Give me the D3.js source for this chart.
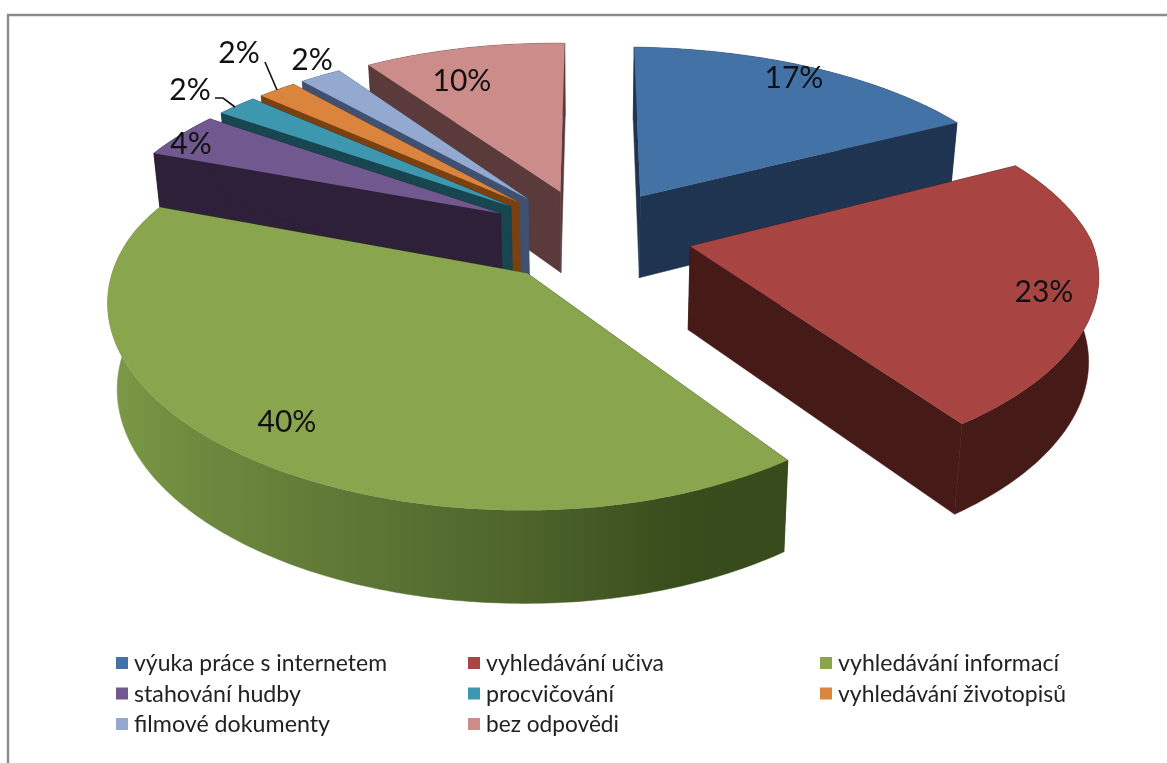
<!DOCTYPE html>
<html><head><meta charset="utf-8">
<script src="https://d3js.org/d3.v7.min.js"></script>
<style>html,body{margin:0;padding:0;background:#fff}svg{display:block;filter:blur(0.5px)}</style>
</head><body><svg id="c" width="1167" height="763"></svg>
<script>
const categories = ["výuka práce s internetem","vyhledávání učiva","vyhledávání informací","stahování hudby","procvičování","vyhledávání životopisů","filmové dokumenty","bez odpovědi"];
const values = [17,23,40.4,4,1.95,1.85,2,9.8];
const topColors = ["#4372a6","#a84441","#89a54e","#71588f","#3d97ae","#db843d","#93a9cf","#cc8c8a"];
const sideColors = ["#1f3450","#451a17","#374a1c","#2d2038","#174550","#7a4010","#3f5070","#5a3a3a"];

const svg = d3.select("#c");
const font = "Lato, Carlito, sans-serif";

// perspective model
const cx=590, cy=235, R=402, explode=102, depth=83;
const k=0.46, g=0.0004;
const scaleFy = y => k/(1+g*y);
function scaleFx(X,Y){
  const gx = Y<0 ? (X<0 ? 0.00035 : 0.00028) : 0.00036;
  const extra = (X<0 && Y>0) ? 1-0.00007*Y : 1;
  return extra/(1+gx*Y);
}
function proj(X,Y,z){
  const px = cx + X*scaleFx(X,Y)*(1-0.02*z);
  const py = cy - Y*scaleFy(Y) + 0.01*X + z*depth*(1-0.00025*Y);
  return [px,py];
}
const pie = d3.pie().sort(null).value(d=>d)(values);
const line = d3.line();
const slices = pie.map((p,i)=>{
  const mid=(p.startAngle+p.endAngle)/2;
  return {i,p,ox:explode*Math.sin(mid),oy:explode*Math.cos(mid)};
}).sort((a,b)=>b.oy-a.oy);

const defs = svg.append("defs");
const gr = defs.append("linearGradient").attr("id","greenWall").attr("gradientUnits","userSpaceOnUse")
  .attr("x1",107).attr("x2",785).attr("y1",0).attr("y2",0);
[[0,"#7c9a46"],[0.12,"#6f8b3f"],[0.35,"#5f7836"],[0.62,"#4d632b"],[0.85,"#384c1c"],[1,"#364a1b"]]
  .forEach(s=>gr.append("stop").attr("offset",s[0]).attr("stop-color",s[1]));

const plot = svg.append("g");
slices.forEach(s=>{
  const pt=(a,r,z)=>proj(s.ox+r*Math.sin(a),s.oy+r*Math.cos(a),z);
  const a0=s.p.startAngle,a1=s.p.endAngle;
  const n=Math.max(4,Math.ceil((a1-a0)*60));
  const angles=d3.range(n+1).map(j=>a0+(a1-a0)*j/n);
  const side=s.i===2?"url(#greenWall)":sideColors[s.i];
  const faceCol=sideColors[s.i];
  [a0,a1].forEach(a=>{
    plot.append("path").attr("fill",faceCol).attr("stroke",faceCol).attr("stroke-width",0.5)
      .attr("d",line([pt(a,0,0),pt(a,R,0),pt(a,R,1),pt(a,0,1)])+"Z");
  });
  const wall=angles.map(a=>pt(a,R,0)).concat(angles.slice().reverse().map(a=>pt(a,R,1)));
  plot.append("path").attr("fill",side).attr("stroke",side).attr("stroke-width",0.5).attr("d",line(wall)+"Z");
  const top=[pt(a0,0,0)].concat(angles.map(a=>pt(a,R,0)));
  plot.append("path").attr("fill",topColors[s.i]).attr("d",line(top)+"Z");
});

// frame
const frameColor="#8a8a8a";
svg.append("path").attr("fill","none").attr("stroke",frameColor).attr("stroke-width",2.4)
  .attr("d",line([[8,763],[8,15],[1167,15]]));

// data labels
const labelLayout=[[794,77],[1044,291],[287,421],[191,143],[190,89],[239,52],[312,59],[462,80]];
svg.append("g").selectAll("text").data(values).join("text")
  .attr("x",(d,i)=>labelLayout[i][0]).attr("y",(d,i)=>labelLayout[i][1]+11)
  .attr("text-anchor","middle").attr("font-family",font).attr("font-size",30).attr("fill","#111")
  .text(d=>Math.round(d)+"%");

// leader lines
[[[215,98],[223,98],[235,107]],[[265,62],[277,90]]].forEach(l=>
  svg.append("path").attr("fill","none").attr("stroke","#111").attr("stroke-width",1.6).attr("d",line(l)));

// legend
const colX=d3.scalePoint().domain([0,1,2]).range([116,820]);
const rowY=d3.scalePoint().domain([0,1,2]).range([663,724]);
const legendWidths=[253,178,221,167,128,228,196,133];
const lg=svg.append("g");
categories.forEach((c,i)=>{
  const x=colX(i%3),y=rowY(Math.floor(i/3));
  lg.append("rect").attr("x",x).attr("y",y-6).attr("width",12).attr("height",12).attr("fill",topColors[i]);
  lg.append("text").attr("x",x+18).attr("y",y+8).attr("font-family",font).attr("font-size",24).attr("fill","#222")
    .attr("textLength",legendWidths[i]).attr("lengthAdjust","spacingAndGlyphs").text(c);
});
</script></body></html>
